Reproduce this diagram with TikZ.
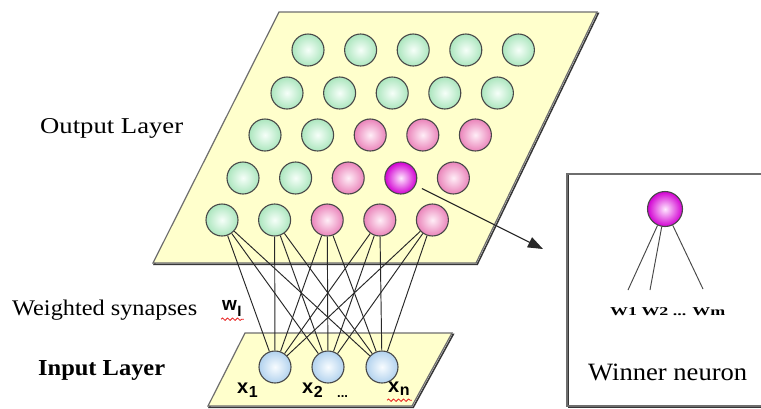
\documentclass[tikz,border=0pt]{standalone}
\usepackage{fontspec}
\setmainfont{Liberation Serif}
\newfontfamily\labsans{Liberation Sans}
\usetikzlibrary{arrows.meta,decorations.pathmorphing}

\definecolor{planefill}{RGB}{255,255,204}
\definecolor{planeedge}{RGB}{110,110,110}
\definecolor{planeshadow}{RGB}{55,55,55}
\definecolor{rim}{RGB}{72,72,72}
\definecolor{mintout}{RGB}{172,230,190}
\definecolor{mintin}{RGB}{246,255,249}
\definecolor{pinkout}{RGB}{234,132,186}
\definecolor{pinkin}{RGB}{255,238,247}
\definecolor{magout}{RGB}{210,0,210}
\definecolor{magin}{RGB}{255,232,255}
\definecolor{blueout}{RGB}{178,210,238}
\definecolor{bluein}{RGB}{248,252,255}
\definecolor{wire}{RGB}{40,40,40}
\definecolor{squiggle}{RGB}{232,30,30}

% planes at the back, synapses above them, neurons and text on top
\pgfdeclarelayer{planes}
\pgfdeclarelayer{wires}
\pgfsetlayers{planes,wires,main}

\tikzset{
  neuron/.style={circle, draw=rim, line width=1.1pt, minimum size=32pt, inner sep=0pt},
  idle/.style={neuron, inner color=mintin, outer color=mintout},
  near/.style={neuron, inner color=pinkin, outer color=pinkout},
  best/.style={neuron, inner color=magin, outer color=magout},
  inputn/.style={neuron, inner color=bluein, outer color=blueout},
  plane/.style={fill=planefill, draw=planeedge, line width=1.2pt, line join=miter},
  planeshade/.style={draw=planeshadow, line width=1.5pt, xshift=1.3pt, yshift=-1.3pt},
  synapse/.style={draw=wire, line width=0.95pt},
  pointer/.style={draw=wire, line width=1.1pt, shorten <=7pt, -{Triangle[length=15pt,width=11pt]}},
  label/.style={anchor=base west, inner sep=0pt, text=black},
  xlabel/.style={anchor=base west, inner sep=0pt, font=\labsans\bfseries\fontsize{20}{20}\selectfont},
  squig/.style={draw=squiggle, line width=0.8pt, decorate,
    decoration={snake, segment length=5pt, amplitude=1.2pt}},
}

\begin{document}
\begin{tikzpicture}[x=1pt,y=-1pt]
  \useasboundingbox (0,0) rectangle (761,408);
  \clip (0,0) rectangle (761,408);

  \begin{pgfonlayer}{planes}
    \fill[white] (0,0) rectangle (761,408);
    % output (Kohonen) layer plane
    \draw[planeshade] (279,12) -- (597,12) -- (476,263) -- (153,263) -- cycle;
    \path[plane] (279,12) -- (597,12) -- (476,263) -- (153,263) -- cycle;
    % input layer plane
    \draw[planeshade] (245,333) -- (452,333) -- (412,406) -- (208,406) -- cycle;
    \path[plane] (245,333) -- (452,333) -- (412,406) -- (208,406) -- cycle;
  \end{pgfonlayer}

  % output neurons, five rows of five
  \foreach \c/\k in {0/idle,1/idle,2/idle,3/idle,4/idle}
    \node[\k] (o-0-\c) at ({308+52.6*\c},50) {};
  \foreach \c/\k in {0/idle,1/idle,2/idle,3/idle,4/idle}
    \node[\k] (o-1-\c) at ({287+52.6*\c},93) {};
  \foreach \c/\k in {0/idle,1/idle,2/near,3/near,4/near}
    \node[\k] (o-2-\c) at ({265+52.6*\c},135) {};
  \foreach \c/\k in {0/idle,1/idle,2/near,3/best,4/near}
    \node[\k] (o-3-\c) at ({243+52.6*\c},178) {};
  \foreach \c/\k in {0/idle,1/idle,2/near,3/near,4/near}
    \node[\k] (o-4-\c) at ({222+52.6*\c},220) {};

  % input neurons
  \node[inputn] (i1) at (275,367) {};
  \node[inputn] (i2) at (328,367) {};
  \node[inputn] (i3) at (382,367) {};

  % full set of weighted synapses
  \begin{pgfonlayer}{wires}
    \foreach \c in {0,...,4}
      \foreach \i in {1,2,3}
        \draw[synapse] (o-4-\c) -- (i\i);
  \end{pgfonlayer}

  % input labels
  \node[xlabel] (lx1) at (237,393) {x\kern0.5pt\raisebox{-4pt}{\fontsize{16}{16}\selectfont 1}};
  \node[xlabel] (lx2) at (302,393) {x\kern0.5pt\raisebox{-4pt}{\fontsize{16}{16}\selectfont 2}};
  \node[xlabel, font=\labsans\bfseries\fontsize{13}{13}\selectfont] (ldots) at (337,397) {...};
  \node[xlabel] (lxn) at (388,392) {x\kern0.5pt\raisebox{-3pt}{\fontsize{16}{16}\selectfont n}};
  \draw[squig] ([xshift=-1pt,yshift=-5pt]lxn.south west) -- ([xshift=2pt,yshift=-5pt]lxn.south east);

  % weight label
  \node[xlabel, font=\labsans\bfseries\fontsize{19}{19}\selectfont] (lwi) at (222,310)
    {w\kern0.5pt\raisebox{-6pt}{\fontsize{15}{15}\selectfont I}};
  \draw[squig] ([xshift=-1pt,yshift=-3pt]lwi.south west) -- ([xshift=2pt,yshift=-3pt]lwi.south east);

  % layer captions
  \node[label] (lout) at (40,133) {\resizebox{143pt}{15pt}{Output Layer}};
  \node[label] (lsyn) at (12,315) {\resizebox{185pt}{15.5pt}{Weighted synapses}};
  \node[label] (linp) at (38,375) {\resizebox{127pt}{15pt}{\bfseries Input Layer}};

  % winner neuron detail box
  \draw[draw=planeshadow, line width=1.4pt] (568.3,175.3) -- (568.3,407.3) -- (780,407.3);
  \draw[draw=planeedge, line width=1.2pt] (780,174) -- (567,174) -- (567,406) -- (780,406);
  \node[best, minimum size=35pt] (wn) at (665,209) {};
  \coordinate (e1) at (628,290);
  \coordinate (e2) at (650,290);
  \coordinate (e3) at (703,289);
  \draw[synapse, draw=rim] (wn) -- (e1);
  \draw[synapse, draw=rim] (wn) -- (e2);
  \draw[synapse, draw=rim] (wn) -- (e3);
  \node[label] (lwts) at (610,315) {\resizebox{115pt}{8pt}{\bfseries W1 W2 ... Wm}};
  \node[label] (lwin) at (588,380) {\resizebox{159pt}{16.5pt}{Winner neuron}};

  % arrow from the winning unit to its detail view
  \coordinate (tip) at (543,249);
  \draw[pointer] (o-3-3) -- (tip);
\end{tikzpicture}
\end{document}
